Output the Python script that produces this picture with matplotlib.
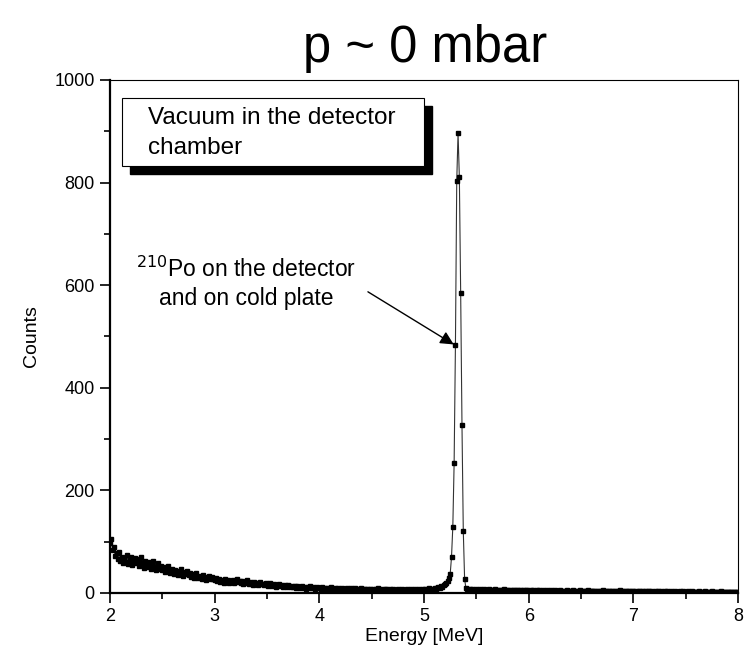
import numpy as np
import matplotlib.pyplot as plt
from matplotlib.patches import Rectangle

plt.rcParams['font.family'] = ['Liberation Sans', 'DejaVu Sans']

# spectrum: channel calibration (MeV) and counts per channel
e_start = 2.0
e_step = 0.0125

counts_low = [
    98, 105, 84, 90, 72, 78, 66, 80, 62, 70, 58, 68, 61, 74, 57, 65, 70, 55, 63, 68,
    59, 66, 52, 61, 70, 55, 49, 63, 57, 51, 60, 46, 55, 62, 50, 44, 53, 58, 47, 52,
    45, 50, 41, 47, 52, 43, 38, 46, 42, 36, 44, 40, 35, 43, 47, 38, 34, 41, 37, 43,
    35, 39, 32, 36, 30, 34, 38, 29, 33, 31, 27, 35, 30, 26, 32, 29, 34, 27, 31, 28,
    25, 29, 23, 27, 21, 26, 24, 20, 28, 23, 25, 19, 24, 22, 26, 20, 23, 27, 21, 24,
    20, 23, 18, 22, 19, 25, 17, 21, 19, 16, 22, 18, 20, 15, 19, 21, 17, 18, 16, 20,
    17, 14, 19, 15, 13, 18, 16, 12, 15, 17, 13, 16, 11, 14, 15, 12, 16, 13, 11, 14,
    12, 14, 10, 13, 11, 9, 12, 14, 10, 11, 8, 12, 10, 13, 9, 11, 10, 8, 12, 9,
    10, 8, 11, 7, 9, 8, 10, 6, 9, 11, 7, 8, 10, 7, 9, 6, 8, 10, 7, 8,
    7, 9, 6, 8, 10, 7, 6, 9, 7, 8, 5, 7, 9, 6, 8, 7, 5, 8, 6, 7,
    6, 8, 5, 7, 6, 9, 5, 7, 6, 4, 7, 8, 5, 6, 7, 5, 8, 6, 4, 6,
    7, 5, 6, 8, 5, 6, 4, 7, 6, 5, 8, 6, 5, 7, 4, 6, 8, 5, 6, 7,
    6, 8, 5, 7, 9, 6, 8, 7, 10, 8, 9, 11, 10, 13, 12, 15, 17, 20, 24, 29,
]
counts_peak = [37, 70, 129, 253, 483, 803, 896, 810, 585, 328, 121, 28]
counts_high = [
    9, 7, 6, 8, 5, 7, 6, 5, 8, 6, 4, 7, 5, 6, 8, 5, 6, 4, 7, 5,
    6, 5, 7, 4, 6, 5, 3, 6, 5, 7, 4, 5, 6, 4, 5, 3, 6, 5, 4, 6,
    5, 4, 6, 3, 5, 4, 6, 5, 3, 4, 5, 6, 4, 3, 5, 4, 6, 3, 4, 5,
    4, 3, 5, 4, 2, 5, 4, 3, 6, 4, 3, 4, 5, 3, 4, 2, 4, 5, 3, 4,
    3, 4, 5, 3, 2, 4, 3, 5, 4, 2, 3, 4, 3, 5, 2, 4, 3, 3, 4, 2,
    4, 3, 2, 4, 3, 5, 2, 3, 4, 3, 2, 4, 3, 2, 3, 4, 2, 3, 5, 3,
    2, 3, 4, 2, 3, 3, 2, 4, 3, 2, 3, 2, 4, 3, 2, 3, 1, 3, 2, 4,
    3, 2, 3, 2, 1, 3, 2, 4, 2, 3, 2, 1, 3, 2, 3, 2, 2, 3, 1, 2,
    3, 2, 2, 1, 3, 2, 3, 1, 2, 2, 3, 1, 2, 3, 2, 1, 2, 2, 3, 1,
    2, 1, 2, 3, 1, 2, 2, 1, 3, 2, 1, 2, 2, 1, 2, 3, 1, 2, 1, 2,
    1, 2, 2, 1, 2, 1, 1, 2, 1,
]

counts = np.array(counts_low + counts_peak + counts_high)
energy = e_start + e_step * np.arange(len(counts))

fig = plt.figure(figsize=(7.47, 6.70), dpi=100)
ax = fig.add_axes([0.1473, 0.115, 0.8407, 0.7657])

ax.plot(energy, counts, color='#333333', lw=0.8, marker='s', ms=3.5,
        mfc='black', mec='black', zorder=3)

ax.set_xlim(2, 8)
ax.set_ylim(0, 1000)
ax.set_xticks(np.arange(2, 9, 1))
ax.set_xticks(np.arange(2, 8.01, 0.5), minor=True)
ax.set_yticks(np.arange(0, 1001, 200))
ax.set_yticks(np.arange(0, 1001, 100), minor=True)
ax.tick_params(which='major', direction='out', length=7, width=1.2, labelsize=13, pad=4)
ax.tick_params(which='minor', direction='out', length=4, width=1.2)
ax.tick_params(top=False, right=False)
ax.spines['left'].set_linewidth(1.6)
ax.spines['bottom'].set_linewidth(1.6)
ax.spines['top'].set_linewidth(0.8)
ax.spines['right'].set_linewidth(0.8)

ax.set_xlabel('Energy [MeV]', fontsize=14, labelpad=2)
ax.set_ylabel('Counts', fontsize=14, labelpad=10)
fig.text(0.569, 0.928, 'p ~ 0 mbar', fontsize=36.5, ha='center', va='center')

# boxed label with drop shadow
bx, by, bw, bh = 0.019, 0.832, 0.481, 0.133
ax.add_patch(Rectangle((bx + 0.0127, by - 0.0156), bw, bh, transform=ax.transAxes,
                       facecolor='black', edgecolor='black', zorder=4, clip_on=False))
ax.add_patch(Rectangle((bx, by), bw, bh, transform=ax.transAxes,
                       facecolor='white', edgecolor='black', lw=0.8, zorder=5, clip_on=False))
ax.text(0.0605, 0.897, 'Vacuum in the detector\nchamber', transform=ax.transAxes,
        fontsize=17.5, ha='left', va='center', linespacing=1.45, zorder=6)

ax.text(3.30, 604, '$^{210}$Po on the detector\nand on cold plate', fontsize=16.5,
        ha='center', va='center', multialignment='center', linespacing=1.3)
ax.annotate('', xy=(5.295, 483), xytext=(4.464, 587),
            arrowprops=dict(arrowstyle='-|>', color='black', lw=1.0,
                            mutation_scale=20, shrinkA=0, shrinkB=1))

fig.savefig('out.png', dpi=100)
